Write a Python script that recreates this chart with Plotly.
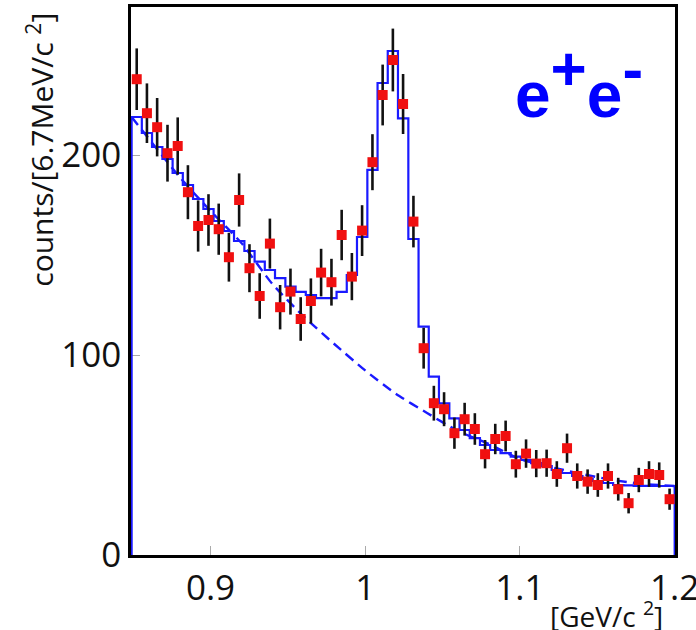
import plotly.graph_objects as go

# ---- data ----
mass_gev = [0.8523, 0.8589, 0.8655, 0.8722, 0.8788, 0.8854, 0.8920, 0.8987, 0.9053, 0.9119,
            0.9185, 0.9252, 0.9318, 0.9384, 0.9450, 0.9517, 0.9583, 0.9649, 0.9715, 0.9782,
            0.9848, 0.9914, 0.9980, 1.0047, 1.0113, 1.0179, 1.0245, 1.0312, 1.0378, 1.0444,
            1.0510, 1.0577, 1.0643, 1.0709, 1.0775, 1.0841, 1.0908, 1.0974, 1.1040, 1.1106,
            1.1173, 1.1239, 1.1305, 1.1371, 1.1438, 1.1504, 1.1570, 1.1636, 1.1703, 1.1769,
            1.1835, 1.1901, 1.1968]

counts = [237.9, 220.9, 213.9, 200.9, 204.5, 181.4, 164.5, 167.5, 162.9, 148.9,
          177.5, 143.4, 129.5, 155.7, 123.9, 131.7, 118.0, 127.0, 141.2, 136.4,
          160.0, 139.2, 162.2, 196.4, 230.0, 247.5, 225.5, 166.7, 103.4, 75.9,
          72.9, 60.9, 67.9, 63.0, 50.4, 58.0, 59.5, 45.4, 50.7, 45.7,
          45.9, 40.5, 53.4, 39.5, 36.7, 35.0, 39.5, 32.9, 25.9, 37.5,
          40.5, 40.0, 27.9]

count_err = [15.4, 14.9, 14.6, 14.2, 14.3, 13.5, 12.8, 12.9, 12.8, 12.2,
             13.3, 12.0, 11.4, 12.5, 11.1, 11.5, 10.9, 11.3, 11.9, 11.7,
             12.6, 11.8, 12.7, 14.0, 15.2, 15.7, 15.0, 12.9, 10.2, 8.7,
             8.5, 7.8, 8.2, 7.9, 7.1, 7.6, 7.7, 6.7, 7.1, 6.8,
             6.8, 6.4, 7.3, 6.3, 6.1, 5.9, 6.3, 5.7, 5.1, 6.1,
             6.4, 6.3, 5.3]

fit_total = [219.0, 211.0, 204.0, 198.0, 191.0, 185.0, 178.0, 173.0, 167.0, 162.0,
             157.0, 152.0, 146.7, 142.5, 138.4, 134.2, 131.6, 130.0, 128.4, 128.4,
             131.6, 140.0, 159.0, 192.6, 236.0, 252.0, 218.3, 158.0, 114.2, 89.2,
             75.8, 68.3, 62.5, 58.4, 55.0, 52.5, 50.9, 49.2, 47.5, 45.9,
             44.4, 42.5, 41.0, 39.5, 38.0, 37.0, 36.0, 35.0, 34.8, 34.6,
             34.6, 34.5, 34.5]

bg_mass = [0.849, 0.88, 0.90, 0.92, 0.94, 0.96, 0.98, 1.00, 1.02, 1.04,
           1.06, 1.08, 1.10, 1.12, 1.14, 1.16, 1.18, 1.20]
bg_counts = [219.0, 189.0, 172.0, 156.0, 135.5, 119.5, 105.5, 92.3, 80.5, 71.0,
             62.0, 55.5, 48.0, 44.0, 40.5, 37.5, 35.5, 34.5]

x_ticks = [0.9, 1.0, 1.1, 1.2]
x_tick_text = ["0.9", "1", "1.1", "1.2"]
y_ticks = [0, 100, 200]

# ---- build step outline of the fit from the bin centres ----
half = (mass_gev[1] - mass_gev[0]) / 2
edges = [m - half for m in mass_gev] + [mass_gev[-1] + half]
step_x = [edges[0]] + edges[:-1] + [edges[-1], edges[-1]]
step_y = [0] + fit_total + [fit_total[-1], 0]

BLUE = "#1a1aff"
fig = go.Figure()

fig.add_trace(go.Scatter(
    x=bg_mass, y=bg_counts, mode="lines",
    line=dict(color=BLUE, width=2.4, dash="10px,6px", shape="spline", smoothing=0.6),
    hoverinfo="skip", showlegend=False))

fig.add_trace(go.Scatter(
    x=step_x, y=step_y, mode="lines",
    line=dict(color=BLUE, width=2.2, shape="hv"),
    hoverinfo="skip", showlegend=False))

fig.add_trace(go.Scatter(
    x=mass_gev, y=counts, mode="markers",
    marker=dict(symbol="square", size=10, color="#f01010", line=dict(width=0)),
    error_y=dict(type="data", array=count_err, visible=True,
                 color="#111111", thickness=2.6, width=0),
    showlegend=False))

fig.update_layout(
    width=696, height=630,
    margin=dict(l=131, r=21, t=7, b=75, autoexpand=False),
    paper_bgcolor="white", plot_bgcolor="white",
    font=dict(family="Open Sans", color="#111111"),
    xaxis=dict(range=[0.8486, 1.2003], tickvals=x_ticks, ticktext=x_tick_text,
               ticks="inside", ticklen=9, tickwidth=1, tickcolor="#aaaaaa",
               ticklabeloverflow="allow", automargin=False,
               showgrid=False, zeroline=False, showline=True, mirror=True,
               linecolor="black", linewidth=2.5, layer="below traces",
               tickfont=dict(size=35, family="Open Sans", color="#111111")),
    yaxis=dict(range=[0, 274], tickvals=y_ticks,
               ticks="inside", ticklen=9, tickwidth=1, tickcolor="#aaaaaa",
               ticklabeloverflow="allow", automargin=False,
               showgrid=False, zeroline=False, showline=True, mirror=True,
               linecolor="black", linewidth=2.5, layer="below traces",
               tickfont=dict(size=35, family="Open Sans", color="#111111")),
    annotations=[
        dict(text="counts/[6.7MeV/c <sup>2</sup>]", textangle=-90,
             xref="paper", yref="paper", x=-0.165, y=0.74,
             xanchor="center", yanchor="middle", showarrow=False,
             font=dict(size=30, family="Open Sans", color="#111111")),
        dict(text="[GeV/c <sup>2</sup>]",
             xref="paper", yref="paper", x=0.874, y=-0.108,
             xanchor="center", yanchor="middle", showarrow=False,
             font=dict(size=28, family="Open Sans", color="#111111")),
        dict(text="<b>e<sup><span style='font-size:62px'>+</span></sup>e"
                  "<sup><span style='font-size:62px'>-</span></sup></b>",
             xref="paper", yref="paper", x=0.703, y=0.862,
             xanchor="left", yanchor="middle", showarrow=False,
             font=dict(size=64, family="Liberation Sans", color="#0000ff")),
    ],
)

fig.write_html("out.html", config={"displayModeBar": False},
               post_script="document.body.style.margin='0';")
